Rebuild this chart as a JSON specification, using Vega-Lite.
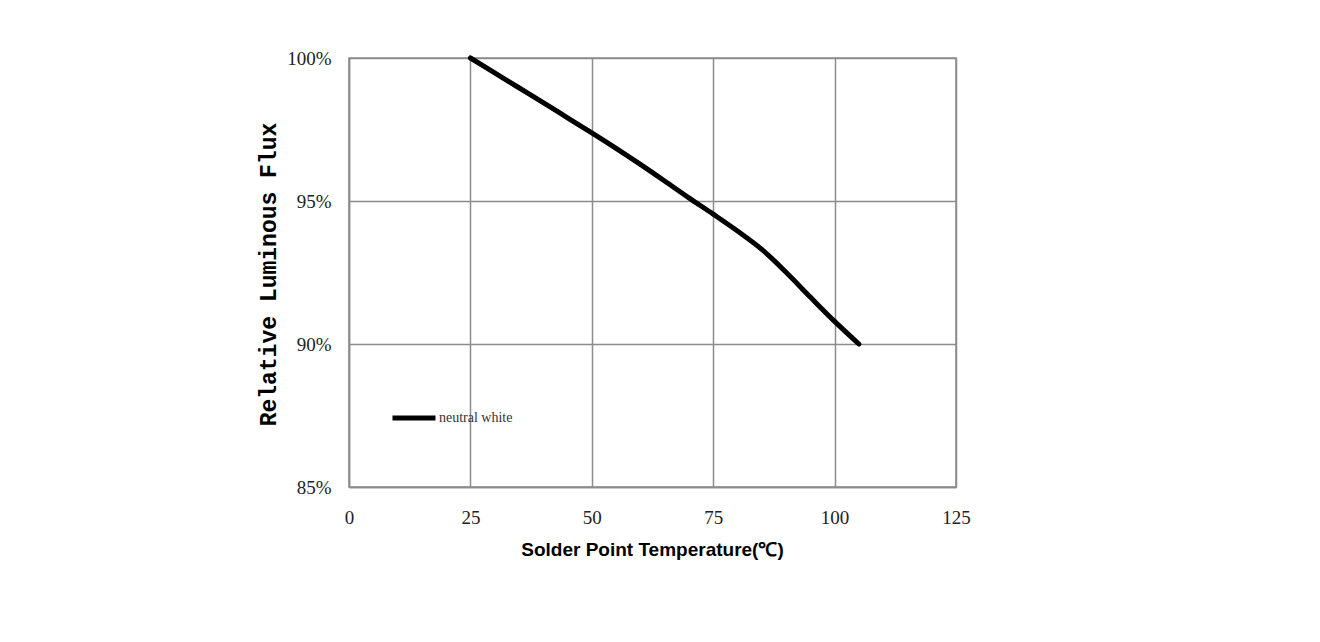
{
  "$schema": "https://vega.github.io/schema/vega-lite/v6.json",
  "width": 607,
  "height": 429,
  "autosize": {"type": "none"},
  "padding": {"left": 349, "top": 58, "right": 364, "bottom": 155},
  "background": "white",
  "data": {
    "values": [
      {"temp": 25, "flux": 1.0, "series": "neutral white"},
      {"temp": 30, "flux": 0.9948, "series": "neutral white"},
      {"temp": 35, "flux": 0.9896, "series": "neutral white"},
      {"temp": 40, "flux": 0.9844, "series": "neutral white"},
      {"temp": 45, "flux": 0.9791, "series": "neutral white"},
      {"temp": 50, "flux": 0.9738, "series": "neutral white"},
      {"temp": 55, "flux": 0.9684, "series": "neutral white"},
      {"temp": 60, "flux": 0.9628, "series": "neutral white"},
      {"temp": 65, "flux": 0.957, "series": "neutral white"},
      {"temp": 70, "flux": 0.9511, "series": "neutral white"},
      {"temp": 75, "flux": 0.9454, "series": "neutral white"},
      {"temp": 80, "flux": 0.9395, "series": "neutral white"},
      {"temp": 85, "flux": 0.9331, "series": "neutral white"},
      {"temp": 90, "flux": 0.9251, "series": "neutral white"},
      {"temp": 95, "flux": 0.9164, "series": "neutral white"},
      {"temp": 100, "flux": 0.9079, "series": "neutral white"},
      {"temp": 105, "flux": 0.900, "series": "neutral white"}
    ]
  },
  "mark": {"type": "line", "interpolate": "monotone", "strokeWidth": 5, "strokeCap": "round"},
  "encoding": {
    "x": {
      "field": "temp",
      "type": "quantitative",
      "scale": {"domain": [0, 125], "nice": false, "zero": false},
      "axis": {
        "values": [0, 25, 50, 75, 100, 125],
        "title": "Solder Point Temperature(℃)",
        "titleFont": "Liberation Sans Narrow, Liberation Sans",
        "titleFontSize": 19,
        "titleFontWeight": "bold",
        "titleColor": "#000000",
        "titleX": 303,
        "titleY": 62,
        "titleAlign": "center",
        "titleBaseline": "middle",
        "labelPadding": 30,
        "labelFlush": false,
        "labelFontSize": 19,
        "labelBaseline": "middle"
      }
    },
    "y": {
      "field": "flux",
      "type": "quantitative",
      "scale": {"domain": [0.85, 1.0], "nice": false, "zero": false},
      "axis": {
        "values": [0.85, 0.9, 0.95, 1.0],
        "format": ".0%",
        "title": "Relative Luminous Flux",
        "titleFont": "Liberation Mono",
        "titleFontSize": 23,
        "titleFontWeight": "bold",
        "titleColor": "#000000",
        "titleX": -81,
        "titleY": 216,
        "titleAlign": "center",
        "titleBaseline": "middle",
        "titleAngle": -90,
        "labelPadding": 18,
        "labelFlush": false,
        "labelFontSize": 19
      }
    },
    "color": {
      "field": "series",
      "type": "nominal",
      "scale": {"range": ["#000000"]},
      "legend": {
        "orient": "none",
        "legendX": 41,
        "legendY": 336,
        "title": null,
        "padding": 0,
        "symbolType": "stroke",
        "symbolSize": 1849,
        "symbolStrokeWidth": 5,
        "symbolStrokeColor": "#000000",
        "labelFont": "Liberation Serif",
        "labelFontSize": 14,
        "labelColor": "#333333",
        "labelOffset": 1
      }
    }
  },
  "config": {
    "view": {"stroke": "#8c8c8c", "strokeWidth": 1.5},
    "axis": {
      "labelFont": "Liberation Serif",
      "labelColor": "#222222",
      "ticks": false,
      "domainColor": "#8c8c8c",
      "domainWidth": 1.5,
      "grid": true,
      "gridColor": "#8c8c8c",
      "gridWidth": 1.5,
      "gridOpacity": 1
    }
  }
}
